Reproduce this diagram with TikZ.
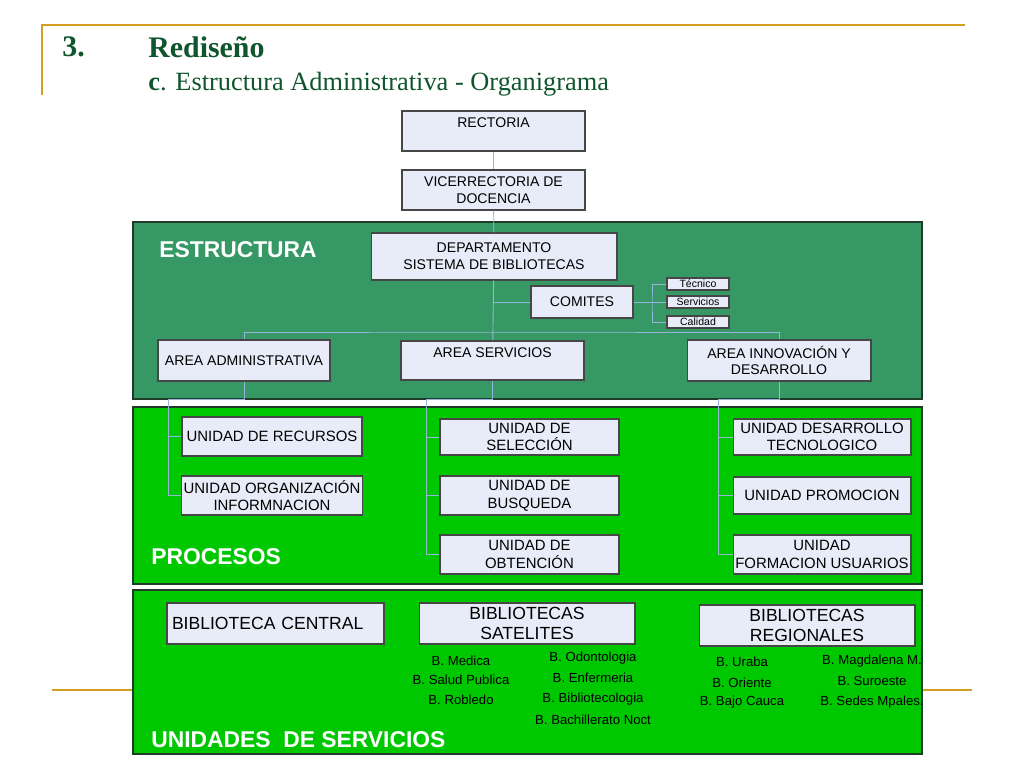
\documentclass[tikz,border=0pt]{standalone}
\usepackage{fontspec}
\setmainfont{Liberation Sans}
\newfontfamily\titlefont{Liberation Serif}
\usetikzlibrary{positioning}
\definecolor{boxfill}{RGB}{232,236,248}
\definecolor{boxline}{RGB}{70,70,70}
\definecolor{darkgreen}{RGB}{53,152,101}
\definecolor{brightgreen}{RGB}{0,200,0}
\definecolor{frame}{RGB}{30,60,40}
\definecolor{gold}{RGB}{210,160,30}
\definecolor{titlegreen}{RGB}{15,85,45}
\definecolor{link}{RGB}{150,180,220}
\begin{document}
\begin{tikzpicture}[x=0.02cm, y=-0.02cm,
	box/.style={draw=boxline, fill=boxfill, line width=0.6pt, align=center, inner sep=1pt, font=\fontsize{8}{9.5}\selectfont},
	tiny/.style={box, font=\fontsize{6}{7}\selectfont, minimum width=1.24cm, minimum height=0.24cm, inner sep=0pt},
	unit/.style={box, font=\fontsize{8.5}{10}\selectfont, minimum width=3.58cm},
	lib/.style={box, font=\fontsize{10}{11.5}\selectfont, minimum width=4.32cm, minimum height=0.82cm},
	band/.style={draw=frame, line width=1.2pt},
	tag/.style={anchor=west, text=white, font=\bfseries\fontsize{13}{15}\selectfont, inner sep=0pt},
	item/.style={font=\fontsize{7.5}{9}\selectfont, inner sep=0pt},
	heading/.style={anchor=west, text=titlegreen, inner sep=0pt},
	conn/.style={draw=link, line width=0.5pt}]

	\useasboundingbox [fill=white] (0,0) rectangle (1024,768);

	% slide frame
	\draw [gold, line width=1.6pt] (42,95) -- (42,25) -- (965,25);
	\draw [gold, line width=1.6pt] (52,690) -- (972,690);

	\node [heading, font=\titlefont\bfseries\fontsize{17}{20}\selectfont] (num) at (62,47) {3.};
	\node [heading, font=\titlefont\bfseries\fontsize{17}{20}\selectfont] (head) at (148,47) {Rediseño};
	\node [heading, font=\titlefont\fontsize{15}{18}\selectfont] (sub) at (148,84) {\textbf{c}. Estructura Administrativa - Organigrama};

	% bands
	\fill [darkgreen] (133,222) rectangle (922,399);
	\draw [band] (133,222) rectangle (922,399);
	\fill [brightgreen] (133,407) rectangle (922,584);
	\draw [band] (133,407) rectangle (922,584);
	\fill [brightgreen] (133,590) rectangle (922,754);
	\draw [band] (133,590) rectangle (922,754);

	\node [tag] (estr) at (159,250) {ESTRUCTURA};
	\node [tag] (proc) at (151,557) {PROCESOS};
	\node [tag] (serv) at (151,740) {UNIDADES\ \ DE SERVICIOS};

	% top of the chart
	\node [box, minimum width=3.66cm, minimum height=0.8cm] (R) at (493.5,131) {RECTORIA\\ \mbox{}};
	\node [box, minimum width=3.66cm, minimum height=0.8cm] (V) at (493.5,190) {VICERRECTORIA DE\\ DOCENCIA};
	\node [box, minimum width=4.92cm, minimum height=0.94cm] (D) at (494,256.5) {DEPARTAMENTO\\ SISTEMA DE BIBLIOTECAS};
	\node [box, minimum width=2.04cm, minimum height=0.64cm] (C) at (582,302) {COMITES};
	\node [tiny] (T) at (698,284) {Técnico};
	\node [tiny] (S) at (698,302) {Servicios};
	\node [tiny] (Q) at (698,322) {Calidad};

	% areas
	\node [box, minimum width=3.44cm, minimum height=0.82cm] (AA) at (244,360.5) {AREA ADMINISTRATIVA};
	\node [box, minimum width=3.66cm, minimum height=0.78cm] (AS) at (492.5,360.5) {AREA SERVICIOS\\ \mbox{}};
	\node [box, minimum width=3.68cm, minimum height=0.82cm] (AI) at (779,360.5) {AREA INNOVACIÓN Y\\ DESARROLLO};

	% units
	\node [unit, minimum width=3.6cm, minimum height=0.78cm] (U1) at (272,436.5) {UNIDAD DE RECURSOS};
	\node [unit, minimum width=3.6cm, minimum height=0.78cm] (U2) at (272,495.5) {UNIDAD ORGANIZACIÓN\\ INFORMNACION};
	\node [unit, minimum height=0.72cm] (U3) at (529.5,437) {UNIDAD DE\\ SELECCIÓN};
	\node [unit, minimum height=0.78cm] (U4) at (529.5,495.5) {UNIDAD DE\\ BUSQUEDA};
	\node [unit, minimum height=0.78cm] (U5) at (529.5,554.5) {UNIDAD DE\\ OBTENCIÓN};
	\node [unit, minimum width=3.56cm, minimum height=0.72cm] (U6) at (822,437) {UNIDAD DESARROLLO\\ TECNOLOGICO};
	\node [unit, minimum width=3.56cm, minimum height=0.74cm] (U7) at (822,495.5) {UNIDAD PROMOCION};
	\node [unit, minimum width=3.56cm, minimum height=0.78cm] (U8) at (822,554.5) {UNIDAD\\ FORMACION USUARIOS};

	% libraries
	\node [lib, align=left, text width=4.14cm, inner xsep=0.1cm, minimum width=0cm] (BC) at (275.5,623.5) {BIBLIOTECA CENTRAL};
	\node [lib] (BS) at (527,623.5) {BIBLIOTECAS\\ SATELITES};
	\node [lib] (BR) at (807,625.5) {BIBLIOTECAS\\ REGIONALES};

	\node [item] (s1) at (461,661) {B. Medica};
	\node [item] (s2) at (461,680) {B. Salud Publica};
	\node [item] (s3) at (461,700) {B. Robledo};
	\node [item] (s4) at (593,658) {B. Odontologia};
	\node [item] (s5) at (593,678) {B. Enfermeria};
	\node [item] (s6) at (593,699) {B. Bibliotecologia};
	\node [item] (s7) at (593,720) {B. Bachillerato Noct};
	\node [item] (r1) at (742,662) {B. Uraba};
	\node [item] (r2) at (742,683) {B. Oriente};
	\node [item] (r3) at (742,702) {B. Bajo Cauca};
	\node [item] (r4) at (872,661) {B. Magdalena M.};
	\node [item] (r5) at (872,681) {B. Suroeste};
	\node [item] (r6) at (872,702) {B. Sedes Mpales.};

	% connectors
	\draw [conn] (R) -- (V);
	\draw [conn] (V) -- (D);
	\draw [conn] (D) -- (AS);
	\draw [conn] (C.west) -- (C.west -| D.south);
	\coordinate (top) at (494,332);
	\draw [conn] (AA.north) |- (top) -| (AI.north);
	\coordinate (cj) at (652,302);
	\draw [conn] (C) -- (cj);
	\draw [conn] (T.west) -| (cj) |- (Q.west);
	\draw [conn] (S.west) -- (cj);

	\coordinate (ja) at (168,399);
	\draw [conn] (AA.south) |- (ja) |- (U1.west);
	\draw [conn] (ja) |- (U2.west);
	\coordinate (jb) at (426,399);
	\draw [conn] (AS.south) |- (jb) |- (U3.west);
	\draw [conn] (jb) |- (U4.west);
	\draw [conn] (jb) |- (U5.west);
	\coordinate (jc) at (718,399);
	\draw [conn] (AI.south) |- (jc) |- (U6.west);
	\draw [conn] (jc) |- (U7.west);
	\draw [conn] (jc) |- (U8.west);

\end{tikzpicture}
\end{document}
